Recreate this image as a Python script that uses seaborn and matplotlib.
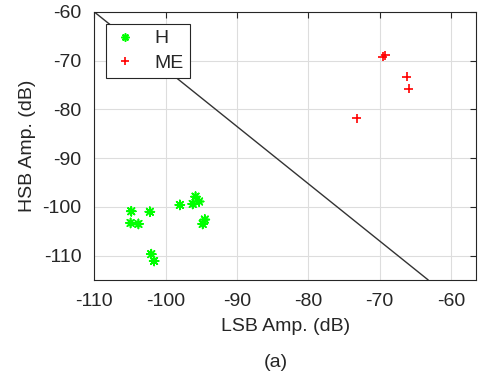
import matplotlib
matplotlib.use("Agg")
import matplotlib.pyplot as plt
import pandas as pd
import seaborn as sns

# datos
h_lsb = [-104.8, -102.2, -104.9, -103.8, -98.0, -96.2, -95.8, -95.3, -94.5, -94.8, -102.0, -101.6]
h_hsb = [-100.9, -101.0, -103.3, -103.5, -99.6, -99.4, -97.9, -98.9, -102.6, -103.5, -109.7, -111.1]
me_lsb = [-69.6, -69.2, -66.2, -65.9, -73.2]
me_hsb = [-69.2, -68.9, -73.3, -75.8, -81.8]
frontera_x = [-110, -63.2]
frontera_y = [-60, -115]
xticks = [-110, -100, -90, -80, -70, -60]
yticks = [-110, -100, -90, -80, -70, -60]

df = pd.DataFrame({
    "LSB": h_lsb + me_lsb,
    "HSB": h_hsb + me_hsb,
    "Clase": ["H"] * len(h_lsb) + ["ME"] * len(me_lsb),
})

sns.set_style("white")
plt.rcParams["font.family"] = ["Liberation Sans", "DejaVu Sans"]
plt.rcParams["axes.unicode_minus"] = False

fig = plt.figure(figsize=(4.78, 3.82), dpi=100)
ax = fig.add_axes([0.197, 0.267, 0.799, 0.702])

ax.plot(frontera_x, frontera_y, color="#333333", lw=1.0, zorder=1)

sns.scatterplot(data=df, x="LSB", y="HSB", hue="Clase", style="Clase",
                palette={"H": "#00ff00", "ME": "#ff0000"},
                markers={"H": (8, 2, 0), "ME": "+"},
                s=42, linewidth=1.2, ax=ax, zorder=3)

ax.set_xlim(-110, -56.5)
ax.set_ylim(-115, -60)
ax.set_xticks(xticks)
ax.set_yticks(yticks)
ax.grid(True, color="#dddddd", lw=0.8)
ax.tick_params(direction="in", length=4, labelsize=14, colors="#262626",
               top=True, right=True, labelcolor="#262626", pad=9)
for s in ax.spines.values():
    s.set_color("#262626")
    s.set_linewidth(0.8)

ax.set_xlabel("LSB Amp. (dB)", fontsize=14, color="#262626", labelpad=6)
ax.set_ylabel("HSB Amp. (dB)", fontsize=14, color="#262626", labelpad=5)

leg = ax.legend(loc="upper left", bbox_to_anchor=(0.031, 0.955), fontsize=14,
                frameon=True, fancybox=False, edgecolor="#262626",
                handlelength=1.4, handletextpad=0.8, borderpad=0.3,
                labelspacing=0.35, borderaxespad=0, markerscale=0.9)
leg.get_frame().set_linewidth(0.8)
leg.get_frame().set_alpha(1)

fig.text(0.578, 0.05, "(a)", fontsize=14, ha="center", va="center", color="#262626")

fig.savefig("out.png", dpi=100)
